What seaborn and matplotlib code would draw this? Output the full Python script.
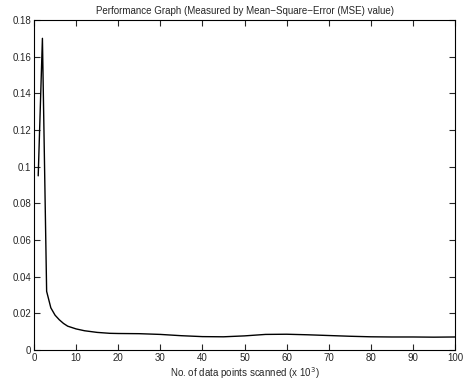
import seaborn as sns
import matplotlib.pyplot as plt
import pandas as pd

# data (x in thousands of points)
points = [1, 2, 3, 4, 5, 6, 7, 8, 10, 12, 15, 18, 20, 25, 30, 35, 40, 45, 50,
          55, 60, 65, 70, 75, 80, 85, 90, 95, 100]
mse = [0.095, 0.170, 0.032, 0.023, 0.019, 0.0165, 0.0145, 0.013, 0.0115, 0.0105,
       0.0096, 0.0091, 0.0090, 0.0089, 0.0085, 0.0078, 0.0073, 0.0072, 0.0077,
       0.0085, 0.0086, 0.0083, 0.0079, 0.0075, 0.0072, 0.0071, 0.0071, 0.0070, 0.0071]
x_ticks = list(range(0, 101, 10))
y_ticks = [0, 0.02, 0.04, 0.06, 0.08, 0.1, 0.12, 0.14, 0.16, 0.18]
y_labels = ["0", "0.02", "0.04", "0.06", "0.08", "0.1", "0.12", "0.14", "0.16", "0.18"]

df = pd.DataFrame({"points": points, "mse": mse})

sns.set_style("ticks")
plt.rcParams['font.family'] = ['Liberation Sans', 'DejaVu Sans']

fig = plt.figure(figsize=(4.63, 3.81), dpi=100)
ax = fig.add_axes([34 / 463, 1 - 350 / 381, (455 - 34) / 463, (350 - 20) / 381])

sns.lineplot(data=df, x="points", y="mse", color="black", linewidth=1.0, ax=ax)

ax.set_xlim(0, 100)
ax.set_ylim(0, 0.18)
ax.set_xticks(x_ticks)
ax.set_yticks(y_ticks)
ax.set_yticklabels(y_labels)
ax.tick_params(direction="in", top=True, right=True, labelsize=7, length=4, width=0.8, pad=2)
for s in ax.spines.values():
    s.set_visible(True)
    s.set_linewidth(0.8)
    s.set_color("black")

ax.set_xlabel("No. of data points scanned (x 10$^3$)", fontsize=7, labelpad=2)
ax.set_ylabel("")
ax.set_title("Performance Graph (Measured by Mean\u2212Square\u2212Error (MSE) value)", fontsize=7, pad=4)

fig.savefig("out.png", dpi=100, facecolor="white")
